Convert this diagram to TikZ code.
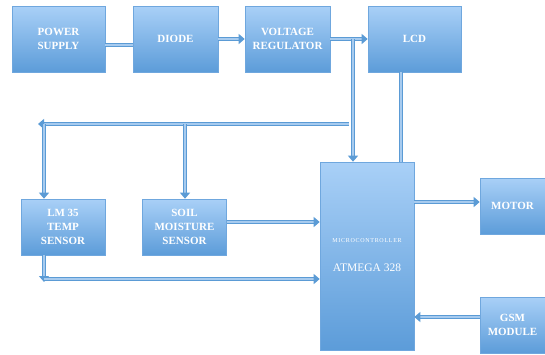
\documentclass[tikz,border=0pt]{standalone}
\usepackage{fontspec}
\setmainfont{Liberation Serif}
\newfontfamily\spacedfont[LetterSpace=12]{Liberation Serif}
\usetikzlibrary{arrows.meta,shapes}
\definecolor{boxtop}{HTML}{A9D0F7}
\definecolor{boxbot}{HTML}{5C9CD9}
\definecolor{boxedge}{HTML}{6FA7DE}
\definecolor{wireout}{HTML}{5B9BD5}
\definecolor{wirein}{HTML}{A7CBEF}
\newcommand{\boxfont}{\fontsize{11}{14}\selectfont\bfseries}
\tikzset{
  block/.style={rectangle, draw=boxedge, line width=0.6pt, shading=axis,
    top color=boxtop, bottom color=boxbot, text=white, align=center,
    font=\boxfont, inner sep=0pt},
  wire/.style={draw=wireout, line width=1.2pt, double=wirein, double distance=2.4pt},
  wirearr/.style={wire, -{Triangle[width=10pt,length=6pt]}}
}
\begin{document}
\begin{tikzpicture}[x=1pt, y=-1pt]
        %\draw[help lines] (0,0) grid (545,354);
        \useasboundingbox (0,0) rectangle (545,354);
        % top row
        \node[block, minimum width=93pt, minimum height=66pt] (power) at (58.5,39) {POWER\\SUPPLY};
        \node[block, minimum width=85pt, minimum height=66pt] (diode) at (175.5,39) {DIODE};
        \node[block, minimum width=85pt, minimum height=66pt] (volt) at (287.5,39) {VOLTAGE\\REGULATOR};
        \node[block, minimum width=93pt, minimum height=66pt] (lcd) at (414.5,39) {LCD};
        % sensors and controller
        \node[block, minimum width=84pt, minimum height=56pt] (lm) at (63,227) {LM 35\\TEMP\\SENSOR};
        \node[block, minimum width=84pt, minimum height=56pt] (soil) at (184.5,227) {SOIL\\MOISTURE\\SENSOR};
        \node[block, minimum width=94pt, minimum height=188pt] (mcu) at (367,256) {};
        \node[white, font=\spacedfont\fontsize{6}{7}\selectfont] (mcuname) at (367,241) {MICROCONTROLLER};
        \node[white, font=\fontsize{11.5}{13}\selectfont] (mcuchip) at (367,268) {ATMEGA 328};
        \node[block, minimum width=65pt, minimum height=56pt] (motor) at (512.5,206) {MOTOR};
        \node[block, minimum width=65pt, minimum height=56pt] (gsm) at (512.5,325) {GSM\\MODULE};
        % connectors
        \coordinate (tap) at (353,39);
        \coordinate (busR) at (349,124);
        \coordinate (busL) at (38,124);
        \coordinate (lmbus) at (44,124);
        \coordinate (soilbus) at (185,124);
        \coordinate (lmfoot) at (44,279);
        \draw[wire] ([yshift=-6pt]power.east) -- ([yshift=-6pt]diode.west);
        \draw[wirearr] (diode) -- (volt);
        \draw[wirearr] (volt) -- (lcd);
        \draw[wirearr] (tap) -- (tap |- mcu.north);
        \draw[wire] ([xshift=-13.5pt]lcd.south) -- ([xshift=-13.5pt]lcd.south |- mcu.north);
        \draw[wirearr] (busR) -- (busL);
        \draw[wirearr] (lmbus) -- (lmbus |- lm.north);
        \draw[wirearr] (soilbus) -- (soilbus |- soil.north);
        \draw[wirearr] (lmbus |- lm.south) -- ([yshift=-3pt]lmfoot);
        \draw[wirearr] (lmfoot) -- (lmfoot -| mcu.west);
        \draw[wirearr] ([yshift=5pt]soil.east) -- ([yshift=5pt]soil.east -| mcu.west);
        \draw[wirearr] ([yshift=4pt]motor.west -| mcu.east) -- ([yshift=4pt]motor.west);
        \draw[wirearr] ([yshift=8pt]gsm.west) -- ([yshift=8pt]gsm.west -| mcu.east);
\end{tikzpicture}
\end{document}
